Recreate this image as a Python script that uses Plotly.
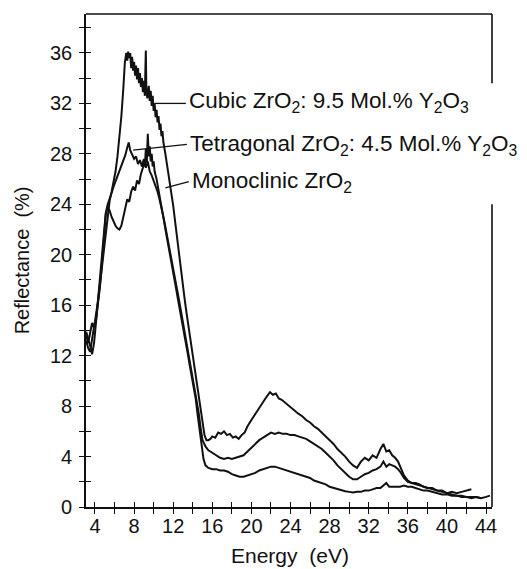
import plotly.graph_objects as go

# ---------------- data ----------------
cubic_E = [
    3.1, 3.3, 3.5, 3.7, 3.9, 4.1, 4.3, 4.5, 4.7, 4.9,
    5.1, 5.3, 5.5, 5.7, 5.9, 6.1, 6.3, 6.5, 6.7, 6.9,
    7.05, 7.2, 7.3, 7.4, 7.5, 7.6, 7.7, 7.8, 7.9, 8.0,
    8.1, 8.2, 8.3, 8.4, 8.5, 8.6, 8.7, 8.8, 8.9, 9.0,
    9.1, 9.15, 9.2, 9.25, 9.35, 9.5, 9.6, 9.7, 9.8, 9.9,
    10.0, 10.1, 10.2, 10.3, 10.4, 10.5, 10.6, 10.7, 10.8, 10.9,
    11.0, 11.2, 11.4, 11.6, 11.8, 12.0, 12.2, 12.4, 12.6, 12.8,
    13.0, 13.2, 13.4, 13.6, 13.8, 14.0, 14.2, 14.4, 14.6, 14.8,
    15.0, 15.2, 15.4, 15.6, 15.8, 16.0, 16.3, 16.6, 16.9, 17.2,
    17.5, 17.8, 18.1, 18.4, 18.7, 19.0, 19.3, 19.6, 20.0, 20.4,
    20.8, 21.2, 21.6, 21.9, 22.2, 22.5, 22.8, 23.1, 23.4, 23.7,
    24.0, 24.4, 24.8, 25.2, 25.6, 26.0, 26.4, 26.8, 27.2, 27.6,
    28.0, 28.4, 28.8, 29.2, 29.6, 30.0, 30.4, 30.8, 31.2, 31.6,
    32.0, 32.4, 32.8, 33.2, 33.5, 33.8, 34.1, 34.4, 34.7, 35.0,
    35.3, 35.6, 36.0, 36.4, 36.8, 37.2, 37.6, 38.0, 38.5, 39.0,
    39.5, 40.0, 40.5, 41.0, 41.5, 42.0, 42.5,
]
cubic_R = [
    13.6, 13.0, 13.8, 14.6, 14.2, 15.2, 16.3, 17.6, 19.0, 20.6,
    22.0, 23.3, 24.3, 25.0, 25.8, 26.6, 27.8, 29.3, 31.0, 33.2,
    35.2, 36.0, 35.4, 36.1, 35.6, 36.0, 34.8, 35.7, 34.6, 35.3,
    34.2, 35.0, 33.9, 34.8, 33.6, 34.4, 33.3, 34.0, 32.9, 33.8,
    32.6, 34.5, 36.2, 33.2, 32.4, 33.4, 32.2, 33.0, 31.8, 32.6,
    31.4, 32.0, 30.9, 31.5, 30.5, 31.0, 29.9, 30.4, 29.4, 29.8,
    28.9, 28.0, 27.0, 26.0, 25.0, 23.9, 22.6, 21.3, 19.9, 18.6,
    17.4, 16.3, 15.2, 14.1, 13.0, 11.9, 10.8, 9.7, 8.7, 7.6,
    6.5, 5.7, 5.3, 5.3, 5.4, 5.6, 5.5, 5.9, 5.8, 6.0,
    5.7, 5.8, 5.5, 5.6, 5.4, 5.7, 5.9, 6.4, 6.9, 7.4,
    7.9, 8.4, 8.8, 9.1, 8.9, 9.0, 8.6, 8.5, 8.3, 8.1,
    7.9, 7.7, 7.4, 7.2, 6.9, 6.7, 6.4, 6.2, 5.9, 5.6,
    5.3, 5.0, 4.6, 4.3, 4.0, 3.6, 3.3, 3.1, 3.6, 3.9,
    3.7, 4.1, 3.9, 4.6, 5.0, 4.4, 4.5, 4.1, 3.9, 3.6,
    3.0, 2.5, 2.1, 1.9, 1.9, 1.8, 1.6, 1.5, 1.5, 1.3,
    1.3, 1.1, 1.2, 1.1, 1.2, 1.3, 1.4,
]

tetra_E = [
    3.1, 3.3, 3.5, 3.7, 3.9, 4.1, 4.3, 4.5, 4.7, 4.9,
    5.1, 5.3, 5.5, 5.7, 5.9, 6.1, 6.3, 6.5, 6.7, 6.9,
    7.1, 7.3, 7.45, 7.6, 7.8, 8.0, 8.2, 8.4, 8.6, 8.8,
    9.0, 9.2, 9.4, 9.6, 9.8, 10.0, 10.2, 10.4, 10.6, 10.8,
    11.0, 11.2, 11.4, 11.6, 11.8, 12.0, 12.2, 12.4, 12.6, 12.8,
    13.0, 13.2, 13.4, 13.6, 13.8, 14.0, 14.2, 14.4, 14.6, 14.8,
    15.0, 15.3, 15.6, 16.0, 16.4, 16.8, 17.2, 17.6, 18.0, 18.4,
    18.8, 19.2, 19.6, 20.0, 20.4, 20.8, 21.2, 21.6, 22.0, 22.4,
    22.8, 23.2, 23.6, 24.0, 24.4, 24.8, 25.2, 25.6, 26.0, 26.4,
    26.8, 27.2, 27.6, 28.0, 28.4, 28.8, 29.2, 29.6, 30.0, 30.4,
    30.8, 31.2, 31.6, 32.0, 32.4, 32.8, 33.2, 33.5, 33.8, 34.1,
    34.4, 34.7, 35.0, 35.3, 35.6, 36.0, 36.4, 36.8, 37.2, 37.6,
    38.0, 38.5, 39.0, 39.5, 40.0, 40.5, 41.0, 41.5, 42.0, 42.5,
    43.0, 43.5,
]
tetra_R = [
    13.9, 13.4, 12.8, 12.1, 13.0, 14.6, 16.3, 18.2, 20.2, 22.0,
    23.3, 24.0, 24.4, 24.9, 25.4, 25.8, 26.2, 26.6, 27.0, 27.4,
    27.9, 28.5, 28.9, 28.3, 27.9, 27.6, 27.8, 27.2, 27.5, 27.0,
    27.6, 26.9, 27.4, 26.6, 26.3, 25.9, 25.5, 25.0, 24.4, 23.8,
    23.0, 22.2, 21.4, 20.5, 19.7, 18.9, 18.1, 17.2, 16.4, 15.5,
    14.6, 13.8, 12.9, 12.0, 11.2, 10.3, 9.4, 8.5, 7.5, 6.3,
    5.3, 4.8, 4.5, 4.3, 4.1, 3.9, 3.8, 3.9, 3.8, 3.9,
    4.0, 4.1, 4.4, 4.7, 5.0, 5.3, 5.5, 5.7, 5.9, 5.8,
    5.9, 5.8, 5.8, 5.7, 5.7, 5.6, 5.5, 5.4, 5.2, 5.0,
    4.8, 4.6, 4.3, 4.0, 3.7, 3.3, 3.0, 2.7, 2.4, 2.2,
    2.2, 2.4, 2.6, 2.7, 2.9, 3.0, 3.2, 3.6, 3.2, 3.4,
    3.3, 3.2, 3.0, 2.7, 2.3, 2.0, 1.9, 1.8, 1.7, 1.6,
    1.5, 1.4, 1.3, 1.2, 1.1, 1.0, 0.9, 0.9, 0.8, 0.8,
    0.8, 0.7,
]

mono_E = [
    3.1, 3.3, 3.5, 3.7, 3.9, 4.1, 4.3, 4.5, 4.7, 4.9,
    5.1, 5.3, 5.5, 5.7, 5.9, 6.1, 6.3, 6.5, 6.7, 6.9,
    7.1, 7.3, 7.5, 7.7, 7.9, 8.1, 8.3, 8.5, 8.7, 8.9,
    9.0, 9.1, 9.2, 9.3, 9.4, 9.5, 9.6, 9.7, 9.8, 9.9,
    10.0, 10.1, 10.3, 10.5, 10.7, 10.9, 11.1, 11.3, 11.5, 11.7,
    11.9, 12.1, 12.3, 12.5, 12.7, 12.9, 13.1, 13.3, 13.5, 13.7,
    13.9, 14.1, 14.3, 14.5, 14.7, 14.9, 15.1, 15.3, 15.6, 16.0,
    16.4, 16.8, 17.2, 17.6, 18.0, 18.4, 18.8, 19.2, 19.6, 20.0,
    20.4, 20.8, 21.2, 21.6, 22.0, 22.4, 22.8, 23.2, 23.6, 24.0,
    24.4, 24.8, 25.2, 25.6, 26.0, 26.4, 26.8, 27.2, 27.6, 28.0,
    28.4, 28.8, 29.2, 29.6, 30.0, 30.4, 30.8, 31.2, 31.6, 32.0,
    32.4, 32.8, 33.2, 33.5, 33.8, 34.1, 34.4, 34.8, 35.2, 35.6,
    36.0, 36.4, 36.8, 37.2, 37.6, 38.0, 38.5, 39.0, 39.5, 40.0,
    40.5, 41.0, 41.5, 42.0, 42.5, 43.0, 43.5, 44.0, 44.4,
]
mono_R = [
    13.2, 12.6, 12.3, 13.2, 14.3, 14.8, 15.9, 17.4, 19.2, 21.3,
    23.2, 23.8, 23.5, 23.0, 22.6, 22.3, 22.1, 22.0, 22.3, 23.1,
    23.9, 24.4, 24.2, 25.0, 25.4, 25.1, 25.9, 25.6, 26.4, 26.9,
    27.5, 27.0, 28.4, 27.3, 29.6, 27.8, 28.6, 27.4, 28.0, 27.0,
    27.4, 26.6, 26.0, 25.2, 24.3, 23.4, 22.5, 21.6, 20.8, 19.9,
    19.0, 18.1, 17.3, 16.4, 15.6, 14.7, 13.8, 13.0, 12.1, 11.2,
    10.4, 9.5, 8.6, 7.3, 6.0, 4.8, 3.8, 3.3, 3.1, 3.0,
    3.0, 2.9, 2.9, 2.8, 2.6, 2.5, 2.4, 2.4, 2.5, 2.6,
    2.7, 2.9, 3.0, 3.1, 3.2, 3.2, 3.1, 3.0, 2.9, 2.8,
    2.7, 2.6, 2.5, 2.4, 2.3, 2.1, 2.0, 1.9, 1.8, 1.6,
    1.5, 1.4, 1.3, 1.25, 1.2, 1.15, 1.2, 1.2, 1.3, 1.3,
    1.4, 1.5, 1.5, 1.7, 1.9, 1.6, 1.6, 1.6, 1.6, 1.7,
    1.6, 1.6, 1.5, 1.4, 1.3, 1.3, 1.2, 1.1, 1.0, 1.0,
    0.9, 0.9, 0.8, 0.8, 0.7, 0.8, 0.7, 0.8, 0.9,
]

x_label_ticks = list(range(4, 45, 4))
y_label_ticks = list(range(0, 37, 4))
minor_step = 2

x_range = [3.08, 44.61]
y_range = [0, 39.09]

labels = [
    "Cubic ZrO<sub>2</sub>: 9.5 Mol.% Y<sub>2</sub>O<sub>3</sub>",
    "Tetragonal ZrO<sub>2</sub>: 4.5 Mol.% Y<sub>2</sub>O<sub>3</sub>",
    "Monoclinic ZrO<sub>2</sub>",
]
label_pos = [(13.4, 32.1), (13.5, 28.7), (13.7, 25.8)]
leaders = [((10.1, 32.0), (13.3, 32.0)),
           ((7.9, 28.3), (13.4, 28.75)),
           ((11.2, 25.3), (13.6, 25.8))]

FONT = "Liberation Sans, Arial, Helvetica, sans-serif"
INK = "#111111"

fig = go.Figure()
for E, R, name in [(cubic_E, cubic_R, "Cubic"), (tetra_E, tetra_R, "Tetragonal"),
                   (mono_E, mono_R, "Monoclinic")]:
    fig.add_trace(go.Scatter(x=E, y=R, mode="lines", name=name,
                             line=dict(color=INK, width=2), showlegend=False))
# helper trace for the overlaid axes (inner half of the crossing ticks)
fig.add_trace(go.Scatter(x=[None], y=[None], xaxis="x2", yaxis="y2",
                         showlegend=False, hoverinfo="skip"))

common = dict(showgrid=False, zeroline=False, linecolor=INK, tickcolor=INK,
              tickwidth=1.3, ticklen=5)


def minor(direction):
    return dict(tick0=0, dtick=minor_step, ticks=direction, ticklen=5,
                tickwidth=1.3, tickcolor=INK, showgrid=False)


fig.update_layout(
    width=527, height=569,
    margin=dict(l=86, r=35, t=14, b=62),
    paper_bgcolor="white", plot_bgcolor="white",
    font=dict(family=FONT, size=20, color=INK),
    xaxis=dict(range=x_range, tickmode="array", tickvals=x_label_ticks,
               ticks="outside", showline=True, linewidth=1.6,
               ticklabelstandoff=-5, minor=minor("outside"), **common),
    yaxis=dict(range=y_range, tickmode="array", tickvals=y_label_ticks,
               ticks="outside", showline=True, linewidth=1.6,
               ticklabelstandoff=3, minor=minor("outside"), **common),
    xaxis2=dict(range=x_range, overlaying="x", anchor="y", side="bottom",
                tickmode="array", tickvals=x_label_ticks, ticks="inside",
                showticklabels=False, showline=False, minor=minor("inside"), **common),
    yaxis2=dict(range=y_range, overlaying="y", anchor="x", side="left",
                tickmode="array", tickvals=y_label_ticks, ticks="inside",
                showticklabels=False, showline=False, minor=minor("inside"), **common),
)

# frame: top line and broken right edge (as in the scan)
fig.add_shape(type="line", xref="paper", yref="paper", x0=0, x1=1, y0=1, y1=1,
              line=dict(color=INK, width=1.6))
fig.add_shape(type="line", xref="paper", yref="y", x0=1, x1=1, y0=y_range[1], y1=33.6,
              line=dict(color=INK, width=1.6))
fig.add_shape(type="line", xref="paper", yref="y", x0=1, x1=1, y0=0, y1=24.0,
              line=dict(color=INK, width=1.6))

for txt, (lx, ly) in zip(labels, label_pos):
    fig.add_annotation(x=lx, y=ly, xref="x", yref="y", text=txt, showarrow=False,
                       xanchor="left", yanchor="middle",
                       font=dict(family=FONT, size=22.5, color=INK))
for (a, b) in leaders:
    fig.add_shape(type="line", xref="x", yref="y", x0=a[0], y0=a[1], x1=b[0], y1=b[1],
                  line=dict(color=INK, width=1.3))

fig.add_annotation(text="Reflectance\u00a0\u00a0(%)", xref="paper", yref="paper",
                   x=-0.158, y=0.50, textangle=-90, showarrow=False,
                   xanchor="center", yanchor="middle",
                   font=dict(family=FONT, size=20, color=INK))
fig.add_annotation(text="Energy\u00a0\u00a0(eV)", xref="paper", yref="paper",
                   x=0.502, y=-0.0985, showarrow=False,
                   xanchor="center", yanchor="middle",
                   font=dict(family=FONT, size=21, color=INK))

fig.write_html("out.html")
